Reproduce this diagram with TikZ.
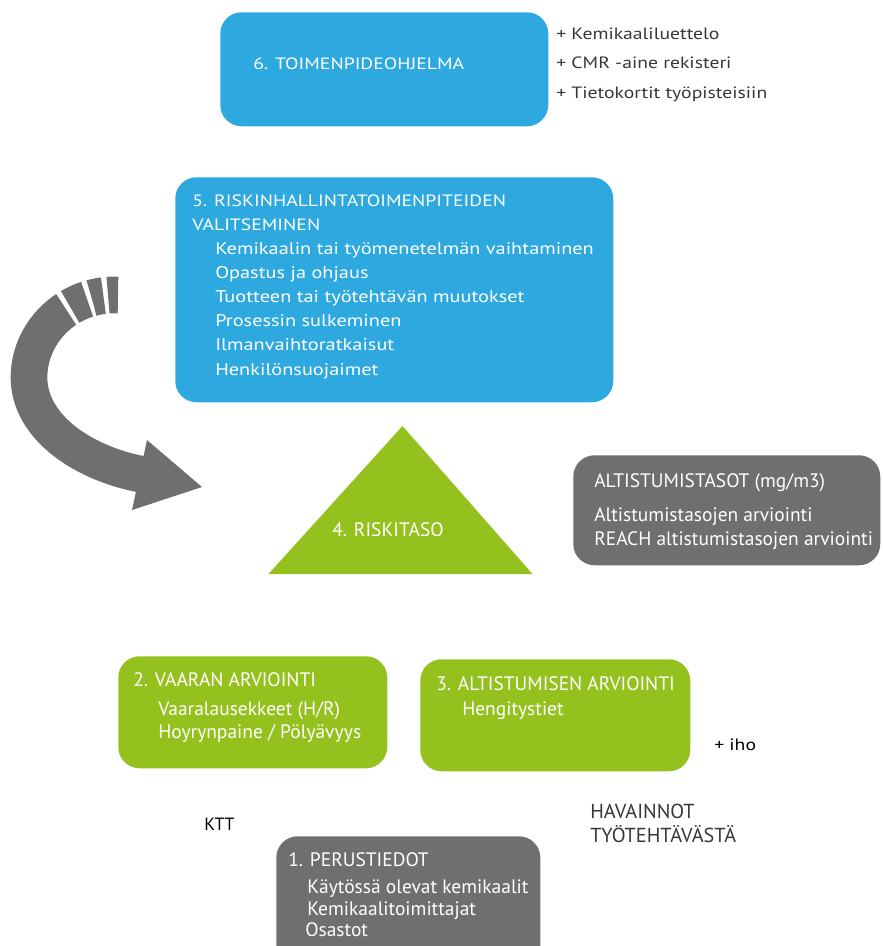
\documentclass[tikz,border=0pt]{standalone}
\usepackage{fontspec}
\setmainfont{PT Sans}
\newfontfamily\widefont[FakeStretch=1.2]{PT Sans}
\usepackage{tikz}

\definecolor{stepblue}{RGB}{46,169,224}
\definecolor{stepgreen}{RGB}{149,193,31}
\definecolor{stepgray}{RGB}{111,111,111}
\definecolor{notegray}{RGB}{55,55,55}

\begin{document}
\begin{tikzpicture}[x=0.75pt,y=0.75pt,yscale=-1,xscale=1,
    box/.style={anchor=north west, inner sep=0pt, rounded corners=16pt},
    bluebox/.style={box, fill=stepblue},
    greenbox/.style={box, fill=stepgreen},
    graybox/.style={box, fill=stepgray},
    boxtext/.style={anchor=base west, inner sep=0pt, align=left, text=white},
    notetext/.style={anchor=base west, inner sep=0pt, align=left, text=notegray}]
    \useasboundingbox (0,0) rectangle (882,946);

    % Boxes
    \node [bluebox, minimum width=246pt, minimum height=85.5pt] (ohjelma) at (220,12) {};
    \node [bluebox, minimum width=328.5pt, minimum height=168.75pt] (hallinta) at (175,177) {};
    \node [graybox, minimum width=230.25pt, minimum height=82.5pt] (tasot) at (573,455) {};
    \node [greenbox, minimum width=201.75pt, minimum height=84pt] (vaara) at (118,656) {};
    \node [greenbox, minimum width=202.5pt, minimum height=84pt] (altistus) at (420,659) {};
    \node [graybox, minimum width=198pt, minimum height=110pt] (perus) at (276,836) {};
    %Shape: Triangle
    \fill [stepgreen] (402.5,426) -- (532.5,574) -- (268.5,574) -- cycle ;

    %Curved arrow with broken tail
    \draw [stepgray, line width=27.5pt, dash pattern=on 7.5pt off 3.5pt on 9pt off 3.5pt on 14pt off 3.5pt on 2000pt]
        (118,295) .. controls (70,293) and (30,330) .. (29,376) .. controls (28,425) and (80,462) .. (140,474) ;
    \fill [stepgray] (147,440) -- (202,487) -- (132,510) -- cycle ;

    % Text Node
    \node [boxtext, font=\widefont\fontsize{12.3}{16}\selectfont] (ohjelmat) at (253,69) {6. TOIMENPIDEOHJELMA};
    % Text Node
    \node [notetext, font=\widefont\fontsize{12.3}{22.1}\selectfont] (lisat) at (556,98) {+ Kemikaaliluettelo\\+ CMR -aine rekisteri\\+ Tietokortit työpisteisiin};
    % Text Node
    \node [boxtext, font=\widefont\fontsize{12.3}{18}\selectfont] (hallintat) at (192,230) {5. RISKINHALLINTATOIMENPITEIDEN\\VALITSEMINEN};
    % Text Node
    \node [boxtext, font=\widefont\fontsize{12.7}{18.15}\selectfont] (keinot) at (215,375) {Kemikaalin tai työmenetelmän vaihtaminen\\Opastus ja ohjaus\\Tuotteen tai työtehtävän muutokset\\Prosessin sulkeminen\\Ilmanvaihtoratkaisut\\Henkilönsuojaimet};
    % Text Node
    \node [boxtext, font=\fontsize{14.6}{16}\selectfont] (riskit) at (332,536) {4. RISKITASO};
    % Text Node
    \node [boxtext, font=\fontsize{14.6}{16}\selectfont] (tasott) at (594,487) {ALTISTUMISTASOT (mg/m3)};
    % Text Node
    \node [boxtext, font=\fontsize{14.6}{18}\selectfont] (arviot) at (594,545) {Altistumistasojen arviointi\\REACH altistumistasojen arviointi};
    % Text Node
    \node [boxtext, font=\fontsize{14.6}{16}\selectfont] (vaarat) at (133,686) {2. VAARAN ARVIOINTI};
    % Text Node
    \node [boxtext, font=\fontsize{14.6}{17.25}\selectfont] (lausekkeet) at (158,738) {Vaaralausekkeet (H/R)\\Hoyrynpaine / Pölyävyys};
    % Text Node
    \node [boxtext, font=\fontsize{14.6}{16}\selectfont] (altistust) at (436,690) {3. ALTISTUMISEN ARVIOINTI};
    % Text Node
    \node [boxtext, font=\fontsize{14.6}{16}\selectfont] (tiet) at (462,715) {Hengitystiet};
    % Text Node
    \node [notetext, text=black, font=\widefont\fontsize{12.3}{16}\selectfont] (iho) at (714,750) {+ iho};
    % Text Node
    \node [notetext, text=black, font=\fontsize{13.3}{16}\selectfont] (ktt) at (204,830) {KTT};
    % Text Node
    \node [notetext, font=\fontsize{15.2}{18}\selectfont] (havainnot) at (590,842) {HAVAINNOT\\TYÖTEHTÄVÄSTÄ};
    % Text Node
    \node [boxtext, font=\fontsize{14.6}{16}\selectfont] (perust) at (288,866) {1. PERUSTIEDOT};
    % Text Node
    \node [boxtext, font=\fontsize{14.6}{16.5}\selectfont] (kemikaalit) at (307,915) {Käytössä olevat kemikaalit\\Kemikaalitoimittajat};
    % Text Node
    \node [boxtext, font=\fontsize{14.6}{16}\selectfont] (osastot) at (305,936) {Osastot};

\end{tikzpicture}
\end{document}
